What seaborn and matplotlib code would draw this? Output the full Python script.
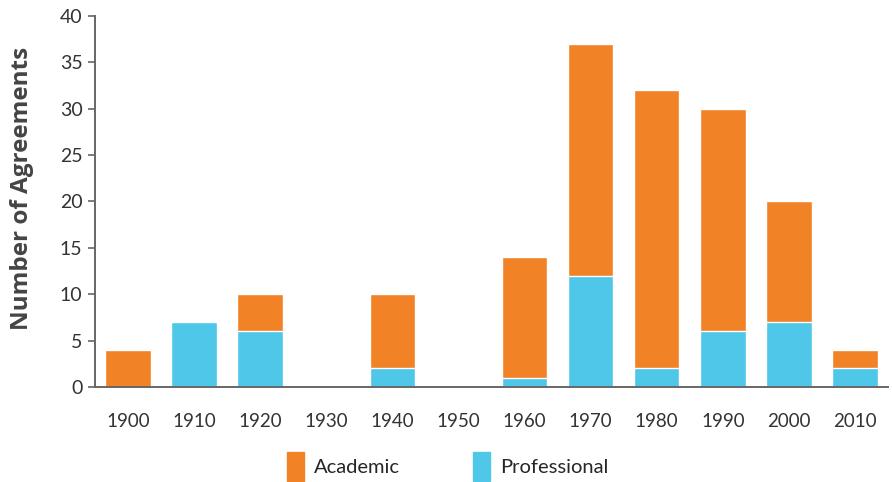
import matplotlib
matplotlib.use("Agg")
import matplotlib.pyplot as plt
import seaborn as sns
import pandas as pd
from matplotlib.patches import Patch

# data
decades = ["1900", "1910", "1920", "1930", "1940", "1950",
           "1960", "1970", "1980", "1990", "2000", "2010"]
academic = [4, 0, 4, 0, 8, 0, 13, 25, 30, 24, 13, 2]
professional = [0, 7, 6, 0, 2, 0, 1, 12, 2, 6, 7, 2]

orange = "#F28226"
blue = "#4EC7E9"

sns.set_theme(style="white")
plt.rcParams['font.family'] = ['Lato', 'DejaVu Sans']

df = pd.DataFrame({"decade": decades, "academic": academic, "professional": professional})
df["total"] = df["academic"] + df["professional"]

fig = plt.figure(figsize=(8.92, 4.82), dpi=100)
ax = fig.add_axes([0.1065, 0.197, 0.889, 0.770])

# stacked: total in orange, professional drawn over it in blue
sns.barplot(data=df, x="decade", y="total", color=orange, width=0.69,
            saturation=1, ax=ax)
sns.barplot(data=df, x="decade", y="professional", color=blue, width=0.69,
            saturation=1, ax=ax)

ax.set_xlim(-0.5, len(decades) - 0.5)
ax.set_ylim(0, 40)
ax.set_yticks(range(0, 41, 5))
ax.set_xlabel("")
ax.set_ylabel("Number of Agreements", fontsize=17.5, fontweight="bold",
              family=["Open Sans", "DejaVu Sans"], color="#444444")
ax.yaxis.set_label_coords(-0.077, 0.535)

# ticks between bars on x axis
ax.set_xticks([i - 0.5 for i in range(len(decades) + 1)], minor=True)
ax.tick_params(axis="x", which="major", length=0, pad=19, labelsize=13.5, labelcolor="#333333")
ax.tick_params(axis="x", which="minor", length=8, width=1.2, color="#666666", direction="out")
ax.tick_params(axis="y", length=5, width=1.2, color="#666666", labelsize=14,
               labelcolor="#333333", left=True, pad=4)

for s in ["top", "right"]:
    ax.spines[s].set_visible(False)
for s in ["left", "bottom"]:
    ax.spines[s].set_color("#666666")
    ax.spines[s].set_linewidth(1.4)

handles = [Patch(color=orange, label="Academic"), Patch(color=blue, label="Professional")]
fig.legend(handles=handles, loc="lower center", bbox_to_anchor=(0.502, -0.035), ncol=2,
           frameon=False, fontsize=14.5, handlelength=0.85, handleheight=1.8,
           handletextpad=0.5, columnspacing=3.6)

fig.savefig("out.png", dpi=100)
